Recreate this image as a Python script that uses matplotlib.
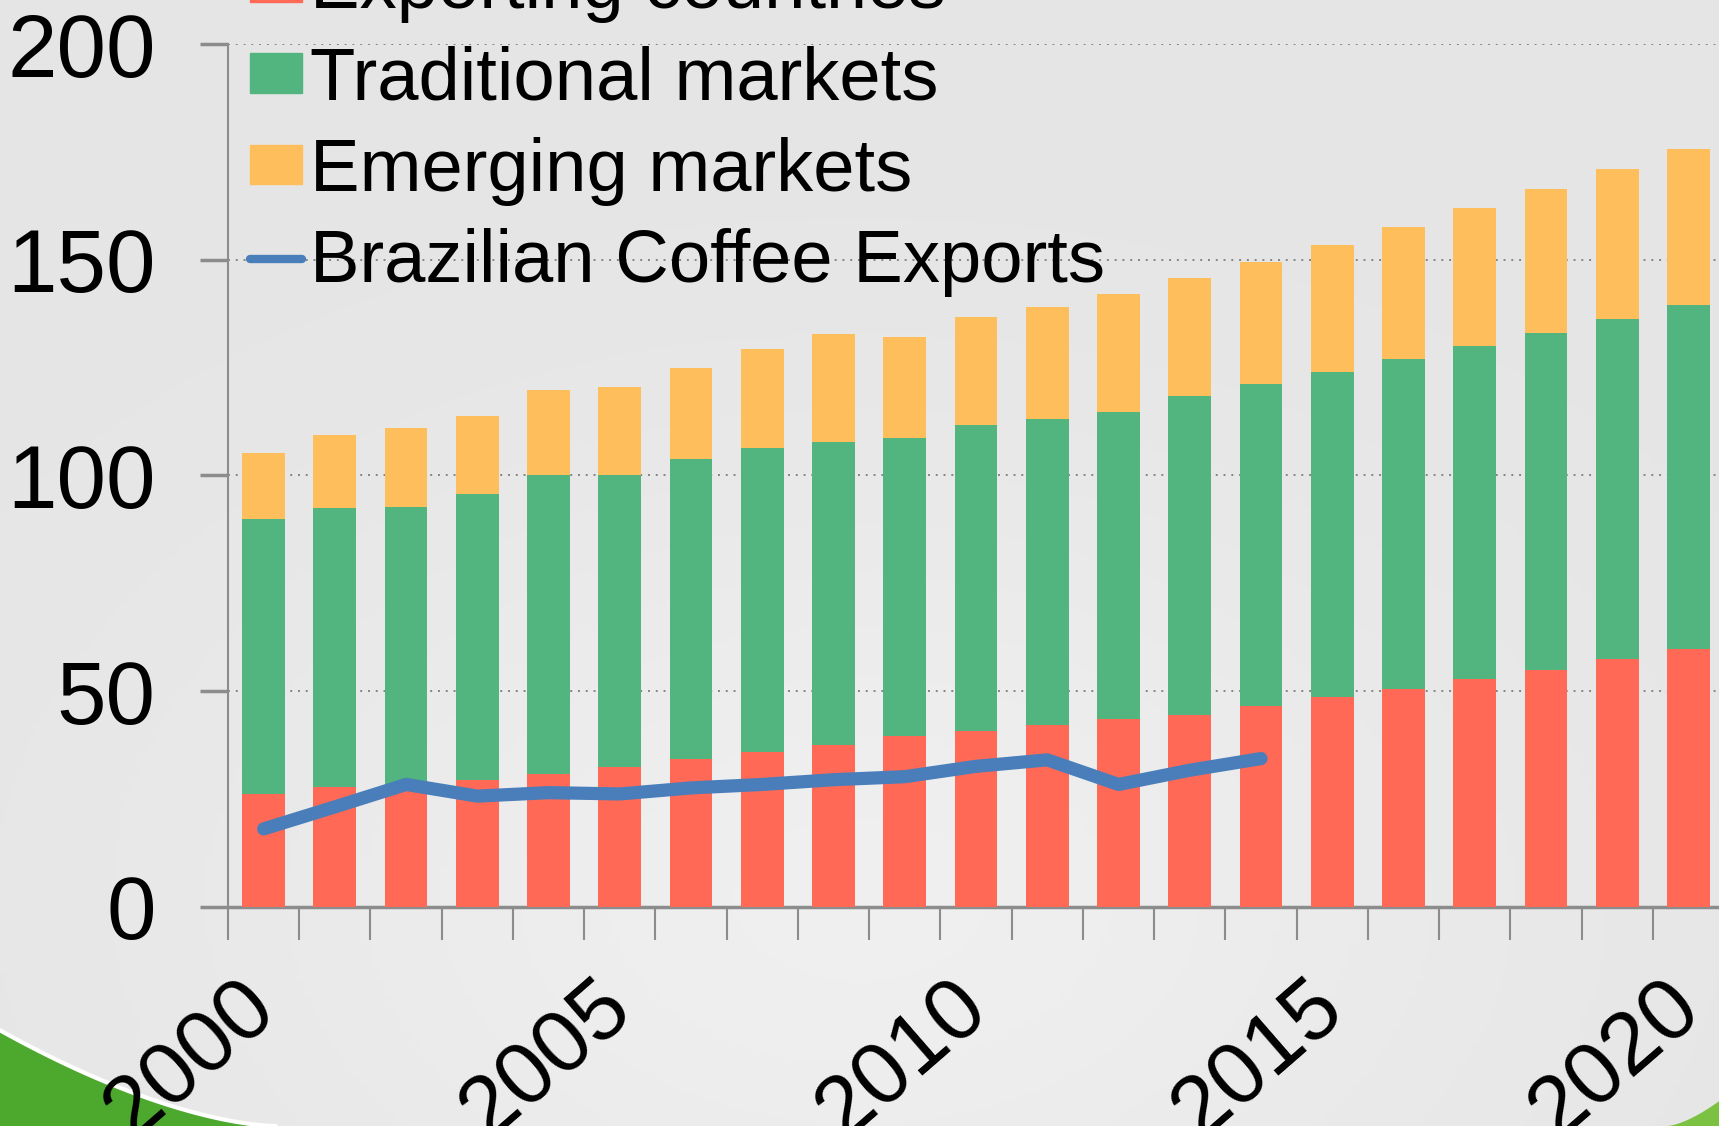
import numpy as np
import matplotlib.pyplot as plt
from matplotlib.patches import Polygon, Patch
from matplotlib.lines import Line2D

plt.rcParams['font.family'] = ['Liberation Sans', 'DejaVu Sans']

# data
years = list(range(2000, 2021))
exporting = [26.3, 27.8, 28.3, 29.4, 30.9, 32.5, 34.3, 36.0, 37.6, 39.6, 40.8,
             42.2, 43.5, 44.5, 46.5, 48.6, 50.6, 52.8, 55.0, 57.4, 59.7]
totals_green = [90.0, 92.5, 92.6, 95.6, 100.1, 100.2, 103.8, 106.4, 107.8, 108.8, 111.7,
                113.0, 114.8, 118.5, 121.1, 124.0, 127.1, 130.0, 133.1, 136.3, 139.5]
totals_all = [105.2, 109.5, 111.1, 113.7, 119.8, 120.5, 124.8, 129.4, 132.9, 132.2, 136.8,
              139.0, 142.1, 145.7, 149.5, 153.5, 157.7, 162.0, 166.4, 171.1, 175.7]
traditional = [g - e for g, e in zip(totals_green, exporting)]
emerging = [t - g for t, g in zip(totals_all, totals_green)]

brazil_years = list(range(2000, 2015))
brazil = [18.1, 23.2, 28.4, 25.7, 26.5, 26.2, 27.6, 28.4, 29.5, 30.2, 32.6,
          34.1, 28.4, 31.7, 34.4]

c_red = '#FF6955'
c_green = '#52B47E'
c_orange = '#FFBE5C'
c_blue = '#4A7EBB'
c_axis = '#8C8C8C'

fig = plt.figure(figsize=(17.19, 11.26), dpi=100)

# background
bg = fig.add_axes([0, 0, 1, 1], zorder=-10)
yy, xx = np.mgrid[0:1:300j, 0:1:300j]
grad = 0.895 + 0.04 * np.exp(-((xx - 0.5) ** 2 + (yy - 0.2) ** 2) / 0.15)
bg.imshow(grad, cmap='gray', vmin=0, vmax=1, extent=[0, 1, 0, 1], aspect='auto', origin='lower')
t = np.linspace(0, 1, 50)
edge = np.column_stack([0.16 * t, 0.085 * (1 - t) ** 1.6])
bg.add_patch(Polygon(np.vstack([[[0, 0]], edge]), closed=True, color='#4DA82E', lw=0))
bg.plot(edge[:, 0], edge[:, 1], color='white', lw=3)
t2 = np.linspace(0, 1, 30)
edge2 = np.column_stack([0.97 + 0.03 * t2, 0.022 * t2 ** 1.5])
bg.add_patch(Polygon(np.vstack([edge2, [[1, 0]]]), closed=True, color='#7CC242', lw=0))
bg.set_xlim(0, 1)
bg.set_ylim(0, 1)
bg.axis('off')

ax = fig.add_axes([228 / 1719, 1 - 907 / 1126, 1 - 228 / 1719 + 0.003, 863 / 1126])
ax.patch.set_alpha(0)

ax.bar(years, exporting, width=0.6, color=c_red, zorder=3)
ax.bar(years, traditional, width=0.6, bottom=exporting, color=c_green, zorder=3)
ax.bar(years, emerging, width=0.6, bottom=totals_green, color=c_orange, zorder=3)
ax.plot(brazil_years, brazil, color=c_blue, lw=9.5, solid_capstyle='round', zorder=4)

ax.set_xlim(1999.5, 2020.5)
ax.set_ylim(0, 200)
ax.set_yticks([0, 50, 100, 150, 200])
ax.set_xticks([2000, 2005, 2010, 2015, 2020])
ax.set_xticks(np.arange(1999.5, 2021, 1), minor=True)
ax.tick_params(axis='x', which='major', length=0, pad=64, labelsize=63,
               labelrotation=41)
for lbl in ax.get_xticklabels():
    lbl.set_ha('right')
    lbl.set_va('center')
    lbl.set_rotation_mode('anchor')
ax.tick_params(axis='x', which='minor', length=24, color=c_axis, width=1.5)
ax.tick_params(axis='y', length=20, color=c_axis, width=2.5, labelsize=64, pad=32)

ax.grid(axis='y', linestyle=(0, (1, 3)), color='#858585', lw=1.4, zorder=1)
for s in ['top', 'right']:
    ax.spines[s].set_visible(False)
ax.spines['left'].set_color(c_axis)
ax.spines['left'].set_linewidth(1.5)
ax.spines['bottom'].set_color(c_axis)
ax.spines['bottom'].set_linewidth(2.5)

handles = [Patch(color=c_red), Patch(color=c_green), Patch(color=c_orange),
           Line2D([], [], color=c_blue, lw=6, solid_capstyle='round')]
labels = ['Exporting countries', 'Traditional markets', 'Emerging markets',
          'Brazilian Coffee Exports']
fig.legend(handles, labels, loc='lower left', bbox_to_anchor=(0.1455, 0.736),
           frameon=False, fontsize=53.5, borderpad=0, borderaxespad=0,
           handlelength=0.7, handleheight=0.45, handletextpad=0.1, labelspacing=0.3)

fig.savefig('out.png', dpi=100)
